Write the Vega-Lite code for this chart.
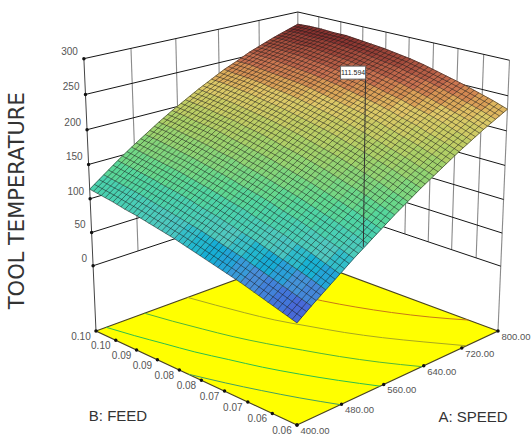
{"$schema":"https://vega.github.io/schema/vega-lite/v6.json","width":531,"height":437,"padding":0,"autosize":"none","background":"#ffffff","config":{"view":{"stroke":null}},
"data":{"values":[
{"group":"floor","seq":1,"speed":400,"feed":0.06,"temp":-100},{"group":"floor","seq":2,"speed":800,"feed":0.06,"temp":-100},{"group":"floor","seq":3,"speed":800,"feed":0.1,"temp":-100},{"group":"floor","seq":4,"speed":400,"feed":0.1,"temp":-100},{"group":"floor","seq":5,"speed":400,"feed":0.06,"temp":-100},
{"group":"level","line":"0","speed":400,"feed":0.1,"temp":0},{"group":"level","line":"0","speed":800,"feed":0.1,"temp":0},{"group":"level","line":"0","speed":800,"feed":0.06,"temp":0},
{"group":"level","line":"50","speed":400,"feed":0.1,"temp":50},{"group":"level","line":"50","speed":800,"feed":0.1,"temp":50},{"group":"level","line":"50","speed":800,"feed":0.06,"temp":50},
{"group":"level","line":"100","speed":400,"feed":0.1,"temp":100},{"group":"level","line":"100","speed":800,"feed":0.1,"temp":100},{"group":"level","line":"100","speed":800,"feed":0.06,"temp":100},
{"group":"level","line":"150","speed":400,"feed":0.1,"temp":150},{"group":"level","line":"150","speed":800,"feed":0.1,"temp":150},{"group":"level","line":"150","speed":800,"feed":0.06,"temp":150},
{"group":"level","line":"200","speed":400,"feed":0.1,"temp":200},{"group":"level","line":"200","speed":800,"feed":0.1,"temp":200},{"group":"level","line":"200","speed":800,"feed":0.06,"temp":200},
{"group":"level","line":"250","speed":400,"feed":0.1,"temp":250},{"group":"level","line":"250","speed":800,"feed":0.1,"temp":250},{"group":"level","line":"250","speed":800,"feed":0.06,"temp":250},
{"group":"level","line":"300","speed":400,"feed":0.1,"temp":300},{"group":"level","line":"300","speed":800,"feed":0.1,"temp":300},{"group":"level","line":"300","speed":800,"feed":0.06,"temp":300},
{"group":"vert","line":"a480","speed":480,"feed":0.1,"temp":0},{"group":"vert","line":"a480","speed":480,"feed":0.1,"temp":300},
{"group":"vert","line":"a560","speed":560,"feed":0.1,"temp":0},{"group":"vert","line":"a560","speed":560,"feed":0.1,"temp":300},
{"group":"vert","line":"a640","speed":640,"feed":0.1,"temp":0},{"group":"vert","line":"a640","speed":640,"feed":0.1,"temp":300},
{"group":"vert","line":"a720","speed":720,"feed":0.1,"temp":0},{"group":"vert","line":"a720","speed":720,"feed":0.1,"temp":300},
{"group":"vert","line":"b1","speed":800,"feed":0.0644,"temp":0},{"group":"vert","line":"b1","speed":800,"feed":0.0644,"temp":300},
{"group":"vert","line":"b2","speed":800,"feed":0.0689,"temp":0},{"group":"vert","line":"b2","speed":800,"feed":0.0689,"temp":300},
{"group":"vert","line":"b3","speed":800,"feed":0.0733,"temp":0},{"group":"vert","line":"b3","speed":800,"feed":0.0733,"temp":300},
{"group":"vert","line":"b4","speed":800,"feed":0.0778,"temp":0},{"group":"vert","line":"b4","speed":800,"feed":0.0778,"temp":300},
{"group":"vert","line":"b5","speed":800,"feed":0.0822,"temp":0},{"group":"vert","line":"b5","speed":800,"feed":0.0822,"temp":300},
{"group":"vert","line":"b6","speed":800,"feed":0.0867,"temp":0},{"group":"vert","line":"b6","speed":800,"feed":0.0867,"temp":300},
{"group":"vert","line":"b7","speed":800,"feed":0.0911,"temp":0},{"group":"vert","line":"b7","speed":800,"feed":0.0911,"temp":300},
{"group":"vert","line":"b8","speed":800,"feed":0.0956,"temp":0},{"group":"vert","line":"b8","speed":800,"feed":0.0956,"temp":300},
{"group":"vert","line":"cb","speed":800,"feed":0.1,"temp":-100},{"group":"vert","line":"cb","speed":800,"feed":0.1,"temp":300},
{"group":"vert","line":"cr","speed":800,"feed":0.06,"temp":-100},{"group":"vert","line":"cr","speed":800,"feed":0.06,"temp":300},
{"group":"corner","line":"cl","speed":400,"feed":0.1,"temp":-100},{"group":"corner","line":"cl","speed":400,"feed":0.1,"temp":300},
{"group":"contour","line":"85","speed":478,"feed":0.06,"temp":-100},{"group":"contour","line":"85","speed":455,"feed":0.065,"temp":-100},{"group":"contour","line":"85","speed":435,"feed":0.07,"temp":-100},{"group":"contour","line":"85","speed":417,"feed":0.075,"temp":-100},{"group":"contour","line":"85","speed":409,"feed":0.0775,"temp":-100},{"group":"contour","line":"85","speed":400,"feed":0.0804,"temp":-100},
{"group":"contour","line":"125","speed":553,"feed":0.06,"temp":-100},{"group":"contour","line":"125","speed":527,"feed":0.065,"temp":-100},{"group":"contour","line":"125","speed":504,"feed":0.07,"temp":-100},{"group":"contour","line":"125","speed":484,"feed":0.075,"temp":-100},{"group":"contour","line":"125","speed":468,"feed":0.08,"temp":-100},{"group":"contour","line":"125","speed":452,"feed":0.085,"temp":-100},{"group":"contour","line":"125","speed":440,"feed":0.09,"temp":-100},{"group":"contour","line":"125","speed":428,"feed":0.095,"temp":-100},{"group":"contour","line":"125","speed":418,"feed":0.1,"temp":-100},
{"group":"contour","line":"165","speed":636,"feed":0.06,"temp":-100},{"group":"contour","line":"165","speed":606,"feed":0.065,"temp":-100},{"group":"contour","line":"165","speed":581,"feed":0.07,"temp":-100},{"group":"contour","line":"165","speed":560,"feed":0.075,"temp":-100},{"group":"contour","line":"165","speed":540,"feed":0.08,"temp":-100},{"group":"contour","line":"165","speed":523,"feed":0.085,"temp":-100},{"group":"contour","line":"165","speed":510,"feed":0.09,"temp":-100},{"group":"contour","line":"165","speed":498,"feed":0.095,"temp":-100},{"group":"contour","line":"165","speed":488,"feed":0.1,"temp":-100},
{"group":"contour","line":"205","speed":730,"feed":0.06,"temp":-100},{"group":"contour","line":"205","speed":698,"feed":0.065,"temp":-100},{"group":"contour","line":"205","speed":668,"feed":0.07,"temp":-100},{"group":"contour","line":"205","speed":643,"feed":0.075,"temp":-100},{"group":"contour","line":"205","speed":623,"feed":0.08,"temp":-100},{"group":"contour","line":"205","speed":604,"feed":0.085,"temp":-100},{"group":"contour","line":"205","speed":591,"feed":0.09,"temp":-100},{"group":"contour","line":"205","speed":580,"feed":0.095,"temp":-100},{"group":"contour","line":"205","speed":570,"feed":0.1,"temp":-100},
{"group":"contour","line":"245","speed":800,"feed":0.0654,"temp":-100},{"group":"contour","line":"245","speed":769,"feed":0.07,"temp":-100},{"group":"contour","line":"245","speed":742,"feed":0.075,"temp":-100},{"group":"contour","line":"245","speed":720,"feed":0.08,"temp":-100},{"group":"contour","line":"245","speed":702,"feed":0.085,"temp":-100},{"group":"contour","line":"245","speed":689,"feed":0.09,"temp":-100},{"group":"contour","line":"245","speed":678,"feed":0.095,"temp":-100},{"group":"contour","line":"245","speed":672,"feed":0.1,"temp":-100},
{"group":"tickA","label":"400.00","speed":400,"feed":0.06,"temp":-100},{"group":"tickA","label":"480.00","speed":480,"feed":0.06,"temp":-100},{"group":"tickA","label":"560.00","speed":560,"feed":0.06,"temp":-100},{"group":"tickA","label":"640.00","speed":640,"feed":0.06,"temp":-100},{"group":"tickA","label":"720.00","speed":720,"feed":0.06,"temp":-100},{"group":"tickA","label":"800.00","speed":800,"feed":0.06,"temp":-100},
{"group":"tickB","label":"0.06","speed":400,"feed":0.06,"temp":-100},{"group":"tickB","label":"0.06","speed":400,"feed":0.0644,"temp":-100},{"group":"tickB","label":"0.07","speed":400,"feed":0.0689,"temp":-100},{"group":"tickB","label":"0.07","speed":400,"feed":0.0733,"temp":-100},{"group":"tickB","label":"0.08","speed":400,"feed":0.0778,"temp":-100},{"group":"tickB","label":"0.08","speed":400,"feed":0.0822,"temp":-100},{"group":"tickB","label":"0.09","speed":400,"feed":0.0867,"temp":-100},{"group":"tickB","label":"0.09","speed":400,"feed":0.0911,"temp":-100},{"group":"tickB","label":"0.10","speed":400,"feed":0.0956,"temp":-100},{"group":"tickB","label":"0.10","speed":400,"feed":0.1,"temp":-100},
{"group":"tickZ","label":"0","speed":400,"feed":0.1,"temp":0},{"group":"tickZ","label":"50","speed":400,"feed":0.1,"temp":50},{"group":"tickZ","label":"100","speed":400,"feed":0.1,"temp":100},{"group":"tickZ","label":"150","speed":400,"feed":0.1,"temp":150},{"group":"tickZ","label":"200","speed":400,"feed":0.1,"temp":200},{"group":"tickZ","label":"250","speed":400,"feed":0.1,"temp":250},{"group":"tickZ","label":"300","speed":400,"feed":0.1,"temp":300},
{"group":"marker","line":"m","speed":528,"feed":0.061,"temp":102},{"group":"marker","line":"m","label":"111.594","speed":528,"feed":0.061,"temp":324},
{"group":"titleA","label":"A: SPEED","speed":800,"feed":0.06,"temp":-100},{"group":"titleB","label":"B: FEED","speed":400,"feed":0.1,"temp":-100},{"group":"titleZ","label":"TOOL TEMPERATURE","speed":400,"feed":0.1,"temp":97},
{"speed":400,"feed":0.06,"temp":40},{"speed":425,"feed":0.06,"temp":55},{"speed":450,"feed":0.06,"temp":69},{"speed":475,"feed":0.06,"temp":83},{"speed":500,"feed":0.06,"temp":97},{"speed":525,"feed":0.06,"temp":110},{"speed":550,"feed":0.06,"temp":123},{"speed":575,"feed":0.06,"temp":136},{"speed":600,"feed":0.06,"temp":148},{"speed":625,"feed":0.06,"temp":160},{"speed":650,"feed":0.06,"temp":171},{"speed":675,"feed":0.06,"temp":182},{"speed":700,"feed":0.06,"temp":193},{"speed":725,"feed":0.06,"temp":203},{"speed":750,"feed":0.06,"temp":213},{"speed":775,"feed":0.06,"temp":222},{"speed":800,"feed":0.06,"temp":231},
{"speed":400,"feed":0.0625,"temp":46},{"speed":425,"feed":0.0625,"temp":61},{"speed":450,"feed":0.0625,"temp":76},{"speed":475,"feed":0.0625,"temp":90},{"speed":500,"feed":0.0625,"temp":104},{"speed":525,"feed":0.0625,"temp":117},{"speed":550,"feed":0.0625,"temp":130},{"speed":575,"feed":0.0625,"temp":143},{"speed":600,"feed":0.0625,"temp":155},{"speed":625,"feed":0.0625,"temp":167},{"speed":650,"feed":0.0625,"temp":178},{"speed":675,"feed":0.0625,"temp":189},{"speed":700,"feed":0.0625,"temp":200},{"speed":725,"feed":0.0625,"temp":210},{"speed":750,"feed":0.0625,"temp":220},{"speed":775,"feed":0.0625,"temp":229},{"speed":800,"feed":0.0625,"temp":238},
{"speed":400,"feed":0.065,"temp":52},{"speed":425,"feed":0.065,"temp":67},{"speed":450,"feed":0.065,"temp":82},{"speed":475,"feed":0.065,"temp":97},{"speed":500,"feed":0.065,"temp":110},{"speed":525,"feed":0.065,"temp":124},{"speed":550,"feed":0.065,"temp":137},{"speed":575,"feed":0.065,"temp":150},{"speed":600,"feed":0.065,"temp":162},{"speed":625,"feed":0.065,"temp":174},{"speed":650,"feed":0.065,"temp":185},{"speed":675,"feed":0.065,"temp":196},{"speed":700,"feed":0.065,"temp":206},{"speed":725,"feed":0.065,"temp":217},{"speed":750,"feed":0.065,"temp":226},{"speed":775,"feed":0.065,"temp":235},{"speed":800,"feed":0.065,"temp":244},
{"speed":400,"feed":0.0675,"temp":58},{"speed":425,"feed":0.0675,"temp":73},{"speed":450,"feed":0.0675,"temp":88},{"speed":475,"feed":0.0675,"temp":103},{"speed":500,"feed":0.0675,"temp":117},{"speed":525,"feed":0.0675,"temp":130},{"speed":550,"feed":0.0675,"temp":143},{"speed":575,"feed":0.0675,"temp":156},{"speed":600,"feed":0.0675,"temp":168},{"speed":625,"feed":0.0675,"temp":180},{"speed":650,"feed":0.0675,"temp":191},{"speed":675,"feed":0.0675,"temp":202},{"speed":700,"feed":0.0675,"temp":213},{"speed":725,"feed":0.0675,"temp":223},{"speed":750,"feed":0.0675,"temp":232},{"speed":775,"feed":0.0675,"temp":241},{"speed":800,"feed":0.0675,"temp":250},
{"speed":400,"feed":0.07,"temp":64},{"speed":425,"feed":0.07,"temp":79},{"speed":450,"feed":0.07,"temp":94},{"speed":475,"feed":0.07,"temp":109},{"speed":500,"feed":0.07,"temp":123},{"speed":525,"feed":0.07,"temp":136},{"speed":550,"feed":0.07,"temp":149},{"speed":575,"feed":0.07,"temp":162},{"speed":600,"feed":0.07,"temp":174},{"speed":625,"feed":0.07,"temp":186},{"speed":650,"feed":0.07,"temp":197},{"speed":675,"feed":0.07,"temp":208},{"speed":700,"feed":0.07,"temp":218},{"speed":725,"feed":0.07,"temp":228},{"speed":750,"feed":0.07,"temp":238},{"speed":775,"feed":0.07,"temp":247},{"speed":800,"feed":0.07,"temp":255},
{"speed":400,"feed":0.0725,"temp":69},{"speed":425,"feed":0.0725,"temp":85},{"speed":450,"feed":0.0725,"temp":100},{"speed":475,"feed":0.0725,"temp":114},{"speed":500,"feed":0.0725,"temp":128},{"speed":525,"feed":0.0725,"temp":142},{"speed":550,"feed":0.0725,"temp":155},{"speed":575,"feed":0.0725,"temp":168},{"speed":600,"feed":0.0725,"temp":180},{"speed":625,"feed":0.0725,"temp":191},{"speed":650,"feed":0.0725,"temp":203},{"speed":675,"feed":0.0725,"temp":214},{"speed":700,"feed":0.0725,"temp":224},{"speed":725,"feed":0.0725,"temp":234},{"speed":750,"feed":0.0725,"temp":243},{"speed":775,"feed":0.0725,"temp":252},{"speed":800,"feed":0.0725,"temp":260},
{"speed":400,"feed":0.075,"temp":74},{"speed":425,"feed":0.075,"temp":90},{"speed":450,"feed":0.075,"temp":105},{"speed":475,"feed":0.075,"temp":119},{"speed":500,"feed":0.075,"temp":134},{"speed":525,"feed":0.075,"temp":147},{"speed":550,"feed":0.075,"temp":160},{"speed":575,"feed":0.075,"temp":173},{"speed":600,"feed":0.075,"temp":185},{"speed":625,"feed":0.075,"temp":197},{"speed":650,"feed":0.075,"temp":208},{"speed":675,"feed":0.075,"temp":219},{"speed":700,"feed":0.075,"temp":229},{"speed":725,"feed":0.075,"temp":238},{"speed":750,"feed":0.075,"temp":248},{"speed":775,"feed":0.075,"temp":256},{"speed":800,"feed":0.075,"temp":265},
{"speed":400,"feed":0.0775,"temp":79},{"speed":425,"feed":0.0775,"temp":95},{"speed":450,"feed":0.0775,"temp":110},{"speed":475,"feed":0.0775,"temp":125},{"speed":500,"feed":0.0775,"temp":139},{"speed":525,"feed":0.0775,"temp":152},{"speed":550,"feed":0.0775,"temp":165},{"speed":575,"feed":0.0775,"temp":178},{"speed":600,"feed":0.0775,"temp":190},{"speed":625,"feed":0.0775,"temp":202},{"speed":650,"feed":0.0775,"temp":213},{"speed":675,"feed":0.0775,"temp":223},{"speed":700,"feed":0.0775,"temp":233},{"speed":725,"feed":0.0775,"temp":243},{"speed":750,"feed":0.0775,"temp":252},{"speed":775,"feed":0.0775,"temp":261},{"speed":800,"feed":0.0775,"temp":269},
{"speed":400,"feed":0.08,"temp":84},{"speed":425,"feed":0.08,"temp":100},{"speed":450,"feed":0.08,"temp":115},{"speed":475,"feed":0.08,"temp":129},{"speed":500,"feed":0.08,"temp":143},{"speed":525,"feed":0.08,"temp":157},{"speed":550,"feed":0.08,"temp":170},{"speed":575,"feed":0.08,"temp":182},{"speed":600,"feed":0.08,"temp":195},{"speed":625,"feed":0.08,"temp":206},{"speed":650,"feed":0.08,"temp":217},{"speed":675,"feed":0.08,"temp":227},{"speed":700,"feed":0.08,"temp":237},{"speed":725,"feed":0.08,"temp":247},{"speed":750,"feed":0.08,"temp":256},{"speed":775,"feed":0.08,"temp":264},{"speed":800,"feed":0.08,"temp":272},
{"speed":400,"feed":0.0825,"temp":89},{"speed":425,"feed":0.0825,"temp":104},{"speed":450,"feed":0.0825,"temp":119},{"speed":475,"feed":0.0825,"temp":134},{"speed":500,"feed":0.0825,"temp":148},{"speed":525,"feed":0.0825,"temp":161},{"speed":550,"feed":0.0825,"temp":174},{"speed":575,"feed":0.0825,"temp":187},{"speed":600,"feed":0.0825,"temp":199},{"speed":625,"feed":0.0825,"temp":210},{"speed":650,"feed":0.0825,"temp":221},{"speed":675,"feed":0.0825,"temp":231},{"speed":700,"feed":0.0825,"temp":241},{"speed":725,"feed":0.0825,"temp":250},{"speed":750,"feed":0.0825,"temp":259},{"speed":775,"feed":0.0825,"temp":267},{"speed":800,"feed":0.0825,"temp":275},
{"speed":400,"feed":0.085,"temp":93},{"speed":425,"feed":0.085,"temp":108},{"speed":450,"feed":0.085,"temp":124},{"speed":475,"feed":0.085,"temp":138},{"speed":500,"feed":0.085,"temp":152},{"speed":525,"feed":0.085,"temp":166},{"speed":550,"feed":0.085,"temp":178},{"speed":575,"feed":0.085,"temp":191},{"speed":600,"feed":0.085,"temp":203},{"speed":625,"feed":0.085,"temp":214},{"speed":650,"feed":0.085,"temp":225},{"speed":675,"feed":0.085,"temp":235},{"speed":700,"feed":0.085,"temp":244},{"speed":725,"feed":0.085,"temp":253},{"speed":750,"feed":0.085,"temp":262},{"speed":775,"feed":0.085,"temp":270},{"speed":800,"feed":0.085,"temp":277},
{"speed":400,"feed":0.0875,"temp":97},{"speed":425,"feed":0.0875,"temp":112},{"speed":450,"feed":0.0875,"temp":128},{"speed":475,"feed":0.0875,"temp":142},{"speed":500,"feed":0.0875,"temp":156},{"speed":525,"feed":0.0875,"temp":169},{"speed":550,"feed":0.0875,"temp":182},{"speed":575,"feed":0.0875,"temp":194},{"speed":600,"feed":0.0875,"temp":206},{"speed":625,"feed":0.0875,"temp":217},{"speed":650,"feed":0.0875,"temp":228},{"speed":675,"feed":0.0875,"temp":238},{"speed":700,"feed":0.0875,"temp":247},{"speed":725,"feed":0.0875,"temp":256},{"speed":750,"feed":0.0875,"temp":264},{"speed":775,"feed":0.0875,"temp":272},{"speed":800,"feed":0.0875,"temp":279},
{"speed":400,"feed":0.09,"temp":101},{"speed":425,"feed":0.09,"temp":116},{"speed":450,"feed":0.09,"temp":131},{"speed":475,"feed":0.09,"temp":146},{"speed":500,"feed":0.09,"temp":160},{"speed":525,"feed":0.09,"temp":173},{"speed":550,"feed":0.09,"temp":186},{"speed":575,"feed":0.09,"temp":198},{"speed":600,"feed":0.09,"temp":209},{"speed":625,"feed":0.09,"temp":220},{"speed":650,"feed":0.09,"temp":230},{"speed":675,"feed":0.09,"temp":240},{"speed":700,"feed":0.09,"temp":249},{"speed":725,"feed":0.09,"temp":258},{"speed":750,"feed":0.09,"temp":266},{"speed":775,"feed":0.09,"temp":274},{"speed":800,"feed":0.09,"temp":281},
{"speed":400,"feed":0.0925,"temp":104},{"speed":425,"feed":0.0925,"temp":120},{"speed":450,"feed":0.0925,"temp":135},{"speed":475,"feed":0.0925,"temp":149},{"speed":500,"feed":0.0925,"temp":163},{"speed":525,"feed":0.0925,"temp":176},{"speed":550,"feed":0.0925,"temp":189},{"speed":575,"feed":0.0925,"temp":200},{"speed":600,"feed":0.0925,"temp":212},{"speed":625,"feed":0.0925,"temp":223},{"speed":650,"feed":0.0925,"temp":233},{"speed":675,"feed":0.0925,"temp":242},{"speed":700,"feed":0.0925,"temp":251},{"speed":725,"feed":0.0925,"temp":260},{"speed":750,"feed":0.0925,"temp":268},{"speed":775,"feed":0.0925,"temp":275},{"speed":800,"feed":0.0925,"temp":281},
{"speed":400,"feed":0.095,"temp":108},{"speed":425,"feed":0.095,"temp":123},{"speed":450,"feed":0.095,"temp":138},{"speed":475,"feed":0.095,"temp":152},{"speed":500,"feed":0.095,"temp":166},{"speed":525,"feed":0.095,"temp":179},{"speed":550,"feed":0.095,"temp":191},{"speed":575,"feed":0.095,"temp":203},{"speed":600,"feed":0.095,"temp":214},{"speed":625,"feed":0.095,"temp":225},{"speed":650,"feed":0.095,"temp":235},{"speed":675,"feed":0.095,"temp":244},{"speed":700,"feed":0.095,"temp":253},{"speed":725,"feed":0.095,"temp":261},{"speed":750,"feed":0.095,"temp":268},{"speed":775,"feed":0.095,"temp":275},{"speed":800,"feed":0.095,"temp":282},
{"speed":400,"feed":0.0975,"temp":111},{"speed":425,"feed":0.0975,"temp":126},{"speed":450,"feed":0.0975,"temp":141},{"speed":475,"feed":0.0975,"temp":155},{"speed":500,"feed":0.0975,"temp":169},{"speed":525,"feed":0.0975,"temp":182},{"speed":550,"feed":0.0975,"temp":194},{"speed":575,"feed":0.0975,"temp":205},{"speed":600,"feed":0.0975,"temp":216},{"speed":625,"feed":0.0975,"temp":227},{"speed":650,"feed":0.0975,"temp":236},{"speed":675,"feed":0.0975,"temp":246},{"speed":700,"feed":0.0975,"temp":254},{"speed":725,"feed":0.0975,"temp":262},{"speed":750,"feed":0.0975,"temp":269},{"speed":775,"feed":0.0975,"temp":276},{"speed":800,"feed":0.0975,"temp":282},
{"speed":400,"feed":0.1,"temp":114},{"speed":425,"feed":0.1,"temp":129},{"speed":450,"feed":0.1,"temp":144},{"speed":475,"feed":0.1,"temp":158},{"speed":500,"feed":0.1,"temp":171},{"speed":525,"feed":0.1,"temp":184},{"speed":550,"feed":0.1,"temp":196},{"speed":575,"feed":0.1,"temp":207},{"speed":600,"feed":0.1,"temp":218},{"speed":625,"feed":0.1,"temp":228},{"speed":650,"feed":0.1,"temp":238},{"speed":675,"feed":0.1,"temp":246},{"speed":700,"feed":0.1,"temp":255},{"speed":725,"feed":0.1,"temp":262},{"speed":750,"feed":0.1,"temp":269},{"speed":775,"feed":0.1,"temp":275},{"speed":800,"feed":0.1,"temp":281}
]},
"transform":[
{"calculate":"(datum.speed-400)/400","as":"u"},
{"calculate":"(datum.feed-0.06)/0.04","as":"v"},
{"calculate":"(datum.temp+100)/400","as":"w"},
{"calculate":"1+0.1383*datum.u+0.132*datum.v-0.063*datum.w","as":"den"},
{"calculate":"(297+269.87*datum.u-188.33*datum.v-19*datum.w)/datum.den","as":"px"},
{"calculate":"(425-48.22*datum.u-50.31*datum.v-312*datum.w)/datum.den","as":"py"}
],
"encoding":{
"x":{"field":"px","type":"quantitative","axis":null,"scale":{"domain":[0,531],"nice":false,"zero":false}},
"y":{"field":"py","type":"quantitative","axis":null,"scale":{"domain":[437,0],"nice":false,"zero":false}}
},
"layer":[
{"transform":[{"filter":"datum.group=='floor'"}],"mark":{"type":"line","filled":true,"color":"#ffff00","stroke":"#4a4420","strokeWidth":1.2},"encoding":{"order":{"field":"seq"}}},
{"transform":[{"filter":"datum.group=='vert'"}],"mark":{"type":"line","color":"#8a8a8a","strokeWidth":1.1},"encoding":{"detail":{"field":"line"}}},
{"transform":[{"filter":"datum.group=='level'"}],"mark":{"type":"line","color":"#151515","strokeWidth":1},"encoding":{"detail":{"field":"line"}}},
{"transform":[{"filter":"datum.group=='corner'"}],"mark":{"type":"line","color":"#444444","strokeWidth":1},"encoding":{"detail":{"field":"line"}}},
{"transform":[{"filter":"datum.group=='contour'"}],"mark":{"type":"line","strokeWidth":1,"interpolate":"monotone"},"encoding":{"detail":{"field":"line"},"order":{"field":"feed"},"color":{"field":"line","type":"nominal","legend":null,"scale":{"domain":["85","125","165","205","245"],"range":["#44a060","#2cc04c","#50b838","#a8a820","#c87818"]}}}},
{"transform":[{"filter":"!datum.group"},
{"window":[{"op":"lead","field":"temp","as":"t10"}],"groupby":["feed"],"sort":[{"field":"speed","order":"ascending"}]},
{"window":[{"op":"lead","field":"temp","as":"t01"}],"groupby":["speed"],"sort":[{"field":"feed","order":"ascending"}]},
{"window":[{"op":"lead","field":"t01","as":"t11"}],"groupby":["feed"],"sort":[{"field":"speed","order":"ascending"}]},
{"filter":"datum.speed<800&&datum.feed<0.1"},
{"calculate":"(datum.temp+datum.t10+datum.t01+datum.t11)/4","as":"tc"},
{"calculate":"datum.speed+'_'+datum.feed","as":"cell"},
{"calculate":"[0,1,2,3]","as":"c"},
{"calculate":"[datum.u,datum.u+0.0625,datum.u+0.0625,datum.u]","as":"us"},
{"calculate":"[datum.v,datum.v,datum.v+0.0625,datum.v+0.0625]","as":"vs"},
{"calculate":"[datum.temp,datum.t10,datum.t11,datum.t01]","as":"zs"},
{"flatten":["c","us","vs","zs"]},
{"calculate":"(datum.zs+100)/400","as":"ws"},
{"calculate":"1+0.1383*datum.us+0.132*datum.vs-0.063*datum.ws","as":"dn"},
{"calculate":"(297+269.87*datum.us-188.33*datum.vs-19*datum.ws)/datum.dn","as":"qx"},
{"calculate":"(425-48.22*datum.us-50.31*datum.vs-312*datum.ws)/datum.dn","as":"qy"}],
"mark":{"type":"line","filled":true,"strokeWidth":0.8},
"encoding":{
"x":{"field":"qx","type":"quantitative","axis":null,"scale":{"domain":[0,531],"nice":false,"zero":false}},
"y":{"field":"qy","type":"quantitative","axis":null,"scale":{"domain":[437,0],"nice":false,"zero":false}},
"order":{"field":"c"},"detail":{"field":"cell"},
"fill":{"field":"tc","type":"quantitative","legend":null,"scale":{"domain":[40,70,100,140,185,225,250,281],"range":["#5a50d0","#4a90d8","#50c8c0","#60d890","#a8d068","#e0c868","#c87050","#842c2c"]}},
"stroke":{"field":"tc","type":"quantitative","legend":null,"scale":{"domain":[40,70,100,140,185,225,250,281],"range":["#5a50d0","#4a90d8","#50c8c0","#60d890","#a8d068","#e0c868","#c87050","#842c2c"]}}
}},
{"transform":[{"filter":"!datum.group"}],"mark":{"type":"line","color":"#1a1a1a","strokeWidth":0.8,"opacity":0.65},"encoding":{"detail":{"field":"feed"},"order":{"field":"speed"}}},
{"transform":[{"filter":"!datum.group"}],"mark":{"type":"line","color":"#1a1a1a","strokeWidth":0.8,"opacity":0.65},"encoding":{"detail":{"field":"speed"},"order":{"field":"feed"}}},
{"transform":[{"filter":"!datum.group"},
{"window":[{"op":"lead","field":"px","as":"nx"},{"op":"lead","field":"py","as":"ny"}],"groupby":["speed"],"sort":[{"field":"feed","order":"ascending"}]},
{"filter":"datum.feed<0.1"},
{"calculate":"[0.3333,0.6667]","as":"f"},{"flatten":["f"]},
{"calculate":"datum.px+(datum.nx-datum.px)*datum.f","as":"sx"},
{"calculate":"datum.py+(datum.ny-datum.py)*datum.f","as":"sy"},
{"calculate":"datum.feed+'_'+datum.f","as":"lid"}],
"mark":{"type":"line","color":"#1a1a1a","strokeWidth":0.8,"opacity":0.65},
"encoding":{"x":{"field":"sx","type":"quantitative","axis":null,"scale":{"domain":[0,531],"nice":false,"zero":false}},"y":{"field":"sy","type":"quantitative","axis":null,"scale":{"domain":[437,0],"nice":false,"zero":false}},"detail":{"field":"lid"},"order":{"field":"speed"}}},
{"transform":[{"filter":"!datum.group"},
{"window":[{"op":"lead","field":"px","as":"nx"},{"op":"lead","field":"py","as":"ny"}],"groupby":["feed"],"sort":[{"field":"speed","order":"ascending"}]},
{"filter":"datum.speed<800"},
{"calculate":"[0.3333,0.6667]","as":"f"},{"flatten":["f"]},
{"calculate":"datum.px+(datum.nx-datum.px)*datum.f","as":"sx"},
{"calculate":"datum.py+(datum.ny-datum.py)*datum.f","as":"sy"},
{"calculate":"datum.speed+'_'+datum.f","as":"lid"}],
"mark":{"type":"line","color":"#1a1a1a","strokeWidth":0.8,"opacity":0.65},
"encoding":{"x":{"field":"sx","type":"quantitative","axis":null,"scale":{"domain":[0,531],"nice":false,"zero":false}},"y":{"field":"sy","type":"quantitative","axis":null,"scale":{"domain":[437,0],"nice":false,"zero":false}},"detail":{"field":"lid"},"order":{"field":"feed"}}},
{"transform":[{"filter":"datum.group=='marker'"}],"mark":{"type":"line","color":"#333333","strokeWidth":1},"encoding":{"detail":{"field":"line"}}},
{"transform":[{"filter":"datum.group=='marker'&&datum.label"}],"mark":{"type":"point","filled":true,"fill":"#ffffff","stroke":"#666666","strokeWidth":1,"opacity":1,"size":4,"shape":"M-25,-13H0V0H-25Z"}},
{"transform":[{"filter":"datum.group=='marker'&&datum.label"}],"mark":{"type":"text","font":"Liberation Sans","fontSize":7,"color":"#222222","dx":-12.5,"dy":-6.5,"align":"center","baseline":"middle"},"encoding":{"text":{"field":"label"}}},
{"transform":[{"filter":"datum.group=='tickA'||datum.group=='tickB'||datum.group=='tickZ'"}],"mark":{"type":"point","filled":true,"color":"#111111","size":12,"opacity":1}},
{"transform":[{"filter":"datum.group=='tickA'"}],"mark":{"type":"text","font":"Liberation Sans","fontSize":9.5,"color":"#555555","dx":18,"dy":6,"align":"center","baseline":"middle"},"encoding":{"text":{"field":"label"}}},
{"transform":[{"filter":"datum.group=='tickB'"}],"mark":{"type":"text","font":"Liberation Sans","fontSize":10,"color":"#555555","dx":-15,"dy":6,"align":"center","baseline":"middle"},"encoding":{"text":{"field":"label"}}},
{"transform":[{"filter":"datum.group=='tickZ'"}],"mark":{"type":"text","font":"Liberation Sans","fontSize":10,"color":"#555555","dx":-6,"dy":-7,"align":"right","baseline":"middle"},"encoding":{"text":{"field":"label"}}},
{"transform":[{"filter":"datum.group=='titleA'"}],"mark":{"type":"text","font":"Liberation Sans","fontSize":15,"color":"#333333","dx":-25,"dy":86,"align":"center","baseline":"middle"},"encoding":{"text":{"field":"label"}}},
{"transform":[{"filter":"datum.group=='titleB'"}],"mark":{"type":"text","font":"Liberation Sans","fontSize":15,"color":"#333333","dx":22,"dy":85,"align":"center","baseline":"middle"},"encoding":{"text":{"field":"label"}}},
{"transform":[{"filter":"datum.group=='titleZ'"}],"mark":{"type":"text","font":"DejaVu Sans","fontSize":21,"color":"#333333","dy":-72,"angle":270,"align":"center","baseline":"middle"},"encoding":{"text":{"field":"label"}}}
]}
